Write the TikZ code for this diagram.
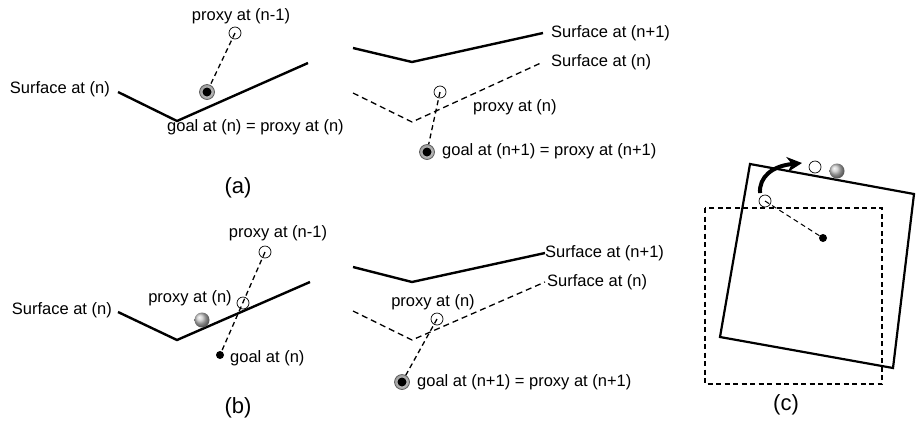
\documentclass[tikz,border=0pt]{standalone}
\usepackage{fontspec}
\setmainfont{Liberation Sans}
\usetikzlibrary{arrows.meta,shadings}
\begin{document}
\begin{tikzpicture}[x=1pt,y=-1pt,
  lbl/.style={inner sep=0pt,font=\fontsize{16.5}{19}\selectfont},
  panellbl/.style={inner sep=0pt,font=\fontsize{22}{26}\selectfont},
  surf/.style={line width=2.4pt,line join=miter},
  dsurf/.style={line width=1.3pt,dash pattern=on 6pt off 4pt},
  link/.style={line width=1.3pt,dash pattern=on 5pt off 3.5pt},
  proxy/.style={circle,draw,line width=0.7pt,minimum size=12pt,inner sep=0pt,fill=white},
  goalring/.style={circle,draw=gray!60!black,line width=0.6pt,inner color=gray!20,outer color=gray!80,minimum size=15pt,inner sep=0pt},
  goaldot/.style={circle,fill=black,minimum size=8pt,inner sep=0pt},
  ball/.style={circle,ball color=gray!45,minimum size=15pt,inner sep=0pt},
]
\useasboundingbox (0,0) rectangle (917,429);

% ---------- (a) left ----------
\coordinate (a1) at (118,92); \coordinate (a2) at (177,121); \coordinate (a3) at (308,63);
\draw[surf] (a1) -- (a2) -- (a3);
\node[lbl,anchor=east] (sa) at (110,89) {Surface at (n)};
\node[lbl] (pa1t) at (241,16) {proxy at (n-1)};
\node[proxy] (pa1) at (235,33) {};
\node[goalring] (ga) at (207,92) {};
\node[goaldot,minimum size=9pt] (gad) at (ga.center) {};
\draw[link] (pa1.center) -- (ga);
\node[lbl,anchor=west] (gat) at (167,127) {goal at (n) = proxy at (n)};

% ---------- (a) right ----------
\coordinate (b1) at (353,48); \coordinate (b2) at (412,62); \coordinate (b3) at (543,33);
\draw[surf] (b1) -- (b2) -- (b3);
\coordinate (c1) at (353,93); \coordinate (c2) at (412,122); \coordinate (c3) at (543,62);
\draw[dsurf] (c1) -- (c2) -- (c3);
\node[lbl,anchor=west] (sb1) at (551,33) {Surface at (n+1)};
\node[lbl,anchor=west] (sb0) at (551,62) {Surface at (n)};
\node[proxy,fill=none] (pb) at (440,92) {};
\node[lbl,anchor=west] (pbt) at (473,107) {proxy at (n)};
\node[goalring] (gb) at (427,152) {};
\node[goaldot,minimum size=9pt] (gbd) at (gb.center) {};
\draw[link] (pb.center) -- (gb);
\node[lbl,anchor=west] (gbt) at (442,151) {goal at (n+1) = proxy at (n+1)};

\node[panellbl] (capa) at (238,188) {(a)};

% ---------- (b) left ----------
\coordinate (d1) at (118,312); \coordinate (d2) at (177,340); \coordinate (d3) at (310,282);
\draw[surf] (d1) -- (d2) -- (d3);
\node[lbl,anchor=east] (sd) at (112,310) {Surface at (n)};
\node[lbl] (pd1t) at (278,233) {proxy at (n-1)};
\node[proxy] (pd1) at (265,252) {};
\node[lbl] (pd0t) at (190,298) {proxy at (n)};
\node[ball] (bd) at (202,320) {};
\node[goaldot] (gd) at (220,355) {};
\draw[link] (pd1.center) -- (gd.center);
\node[proxy,fill=none] (pd0) at (243,303) {};
\node[lbl,anchor=west] (gdt) at (230,358) {goal at (n)};

% ---------- (b) right ----------
\coordinate (e1) at (353,267); \coordinate (e2) at (412,282); \coordinate (e3) at (545,253);
\draw[surf] (e1) -- (e2) -- (e3);
\coordinate (f1) at (353,311); \coordinate (f2) at (412,340); \coordinate (f3) at (545,282);
\draw[dsurf] (f1) -- (f2) -- (f3);
\node[lbl,anchor=west] (se1) at (545,253) {Surface at (n+1)};
\node[lbl,anchor=west] (se0) at (547,282) {Surface at (n)};
\node[lbl] (pet) at (433,302) {proxy at (n)};
\node[proxy,fill=none] (pe) at (437,319) {};
\node[goalring] (ge) at (402,382) {};
\node[goaldot,minimum size=9pt] (ged) at (ge.center) {};
\draw[link] (pe.center) -- (ge);
\node[lbl,anchor=west] (get) at (417,382) {goal at (n+1) = proxy at (n+1)};

\node[panellbl] (capb) at (238,408) {(b)};

% ---------- (c) ----------
\draw[line width=1.3pt,dash pattern=on 5pt off 3.5pt] (705,208) rectangle (882,384);
\draw[line width=2.2pt,line join=miter] (750,164) -- (914,194) -- (893,368) -- (720,337) -- cycle;
\node[proxy] (pc) at (765,201) {};
\node[goaldot] (gc) at (823,238) {};
\draw[link,line width=1pt] (pc.center) -- (gc.center);
\node[proxy] (pc2) at (815,167) {};
\node[ball] (bc) at (837,171) {};
\coordinate (arS) at (760,193);
\coordinate (arE) at (802,163);
\draw[line width=4pt,-{Stealth[length=15pt,width=15pt]}] (arS) .. controls (759,177) and (772,166) .. (arE);
\node[panellbl] (capc) at (786,405) {(c)};
\end{tikzpicture}
\end{document}
